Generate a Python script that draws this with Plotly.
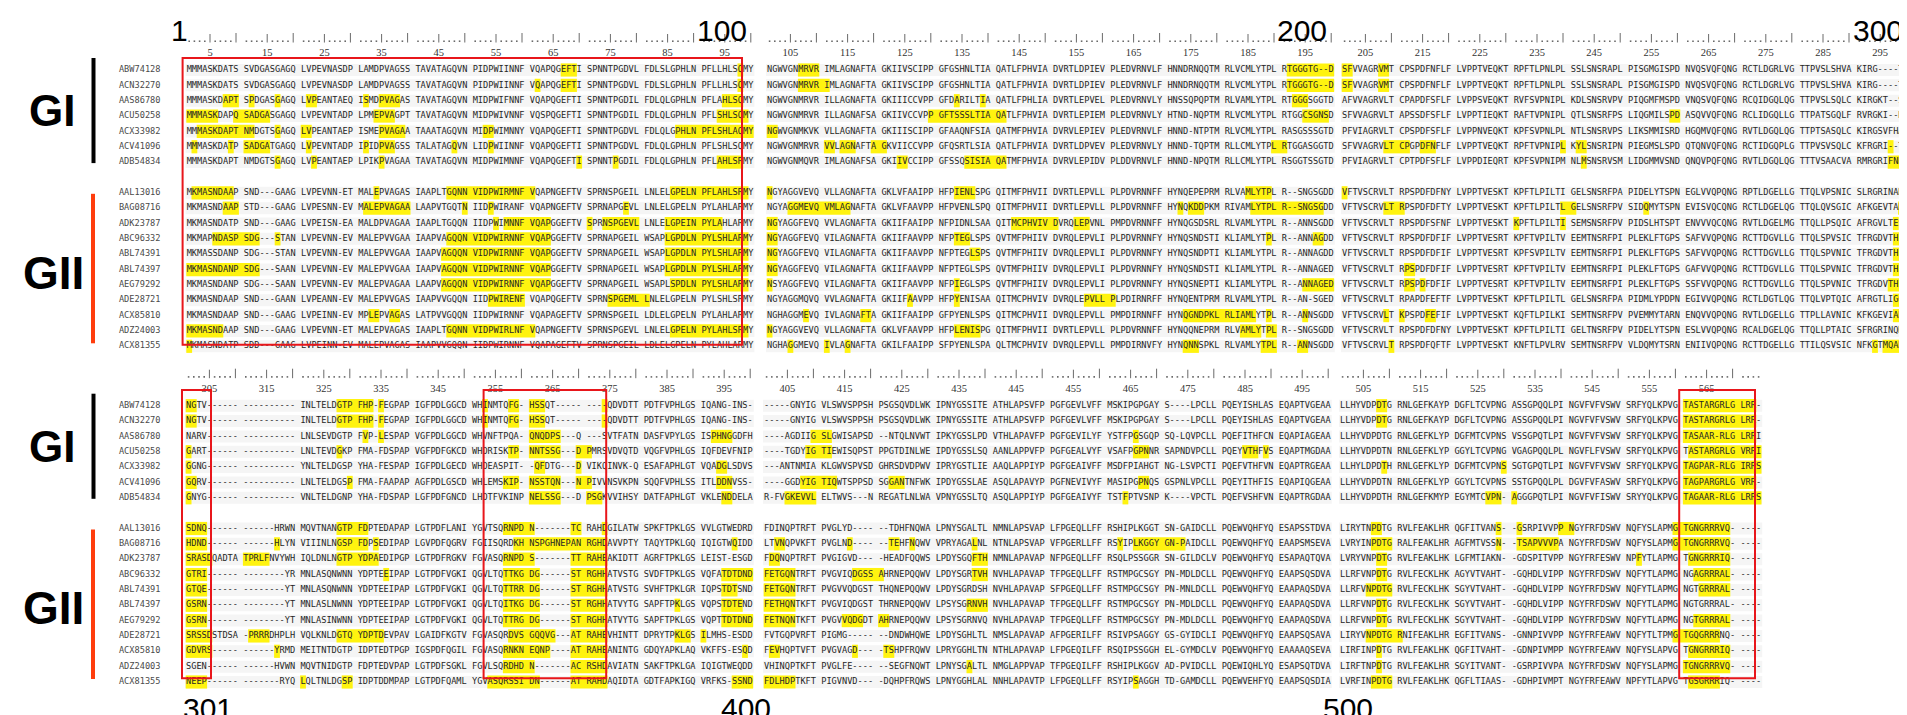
import plotly.graph_objects as go

W, H = 1907, 715

NAMES = ["ABW74128", "ACN32270", "AAS86780", "ACU50258", "ACX33982", "ACV41096", "ADB54834",
         "AAL13016", "BAG08716", "ADK23787", "ABC96332", "ABL74391", "ABL74397", "AEG79292",
         "ADE28721", "ACX85810", "ADZ24003", "ACX81355"]
N_GI = 7

SEQ_001_100 = [
    "MMMASKDATS SVDGASGAGQ LVPEVNASDP LAMDPVAGSS TAVATAGQVN PIDPWIINNF VQAPQGEFTI SPNNTPGDVL FDLSLGPHLN PFLLHLSQMY",
    "MMMASKDATS SVDGASGAGQ LVPEVNASDP LAMDPVAGSS TAVATAGQVN PIDPWIINNF VQAPQGEFTI SPNNTPGDVL FDLSLGPHLN PFLLHLSQMY",
    "MMMASKDAPT SPDGASGAGQ LVPEANTAEQ ISMDPVAGAS TAVATAGQVN MIDPWIFNNF VQAPQGEFTI SPNNTPGDIL FDLQLGPHLN PFLAHLSQMY",
    "MMMASKDAPQ SADGASGAGQ LVPEVNTADP LPMEPVAGPT TAVATAGQVN MIDPWIVNNF VQSPQGEFTI SPNNTPGDIL FDLQLGPHLN PFLSHLSQMY",
    "MMMASKDAPT NMDGTSGAGQ LVPEANTAEP ISMEPVAGAA TAAATAGQVN MIDPWIMNNY VQAPQGEFTI SPNNTPGDVL FDLQLGPHLN PFLSHLAQMY",
    "MMMASKDATP SADGATGAGQ LVPEVNTADP IPIDPVAGSS TALATAGQVN LIDPWIINNF VQAPQGEFTI SPNNTPGDVL FDLQLGPHLN PFLSHLSQMY",
    "MMMASKDAPT NMDGTSGAGQ LVPEANTAEP LPIKPVAGAA TAVATAGQVN MIDPWIMNNF VQAPQGEFTI SPNNTPGDIL FDLQLGPHLN PFLAHLSRMY",
    "MKMASNDAAP SND---GAAG LVPEVNN-ET MALEPVAGAS IAAPLTGQNN VIDPWIRMNF VQAPNGEFTV SPRNSPGEIL LNLELGPELN PFLAHLSRMY",
    "MKMASNDAAP STD---GAAG LVPESNN-EV MALEPVAGAA LAAPVTGQTN IIDPWIRANF VQAPNGEFTV SPRNAPGEVL LNLELGPELN PYLAHLARMY",
    "MKMASNDATP SND---GAAG LVPEISN-EA MALDPVAGAA IAAPLTGQQN IIDPWIMNNF VQAPGGEFTV SPRNSPGEVL LNLELGPEIN PYLAHLARMY",
    "MKMAPNDASP SDG---STAN LVPEVNN-EV MALEPVVGAA IAAPVAGQQN VIDPWIRNNF VQAPGGEFTV SPRNAPGEIL WSAPLGPDLN PYLSHLARMY",
    "MKMASSDANP SDG---STAN LVPEVNN-EV MALEPVVGAA IAAPVAGQQN VIDPWIRNNF VQAPGGEFTV SPRNAPGEIL WSAPLGPDLN PYLSHLARMY",
    "MKMASNDANP SDG---SAAN LVPEVNN-EV MALEPVVGAA IAAPVAGQQN VIDPWIRNNF VQAPGGEFTV SPRNAPGEIL WSAPLGPDLN PYLSHLARMY",
    "MKMASNDANP SDG---SAAN LVPEVNN-EV MALEPVAGAA LAAPVAGQQN VIDPWIRNNF VQAPGGEFTV SPRNAPGEIL WSAPLSPDLN PYLSHLARMY",
    "MKMASNDAAP SND---GAAN LVPEANN-EV MALEPVVGAS IAAPVVGQQN IIDPWIRENF VQAPQGEFTV SPRNSPGEML LNLELGPELN PYLSHLSRMY",
    "MKMASNDAAP SND---GAAG LVPEINN-EV MPLEPVAGAS LATPVVGQQN IIDPWIRNNF VQAPAGEFTV SPRNSPGEIL LDLELGPELN PYLAHLARMY",
    "MKMASNDAAP SND---GAAG LVPEVNN-ET MALEPVAGAS IAAPLTGQNN VIDPWIRLNF VQAPNGEFTV SPRNSPGEVL LNLELGPELN PYLAHLSRMY",
    "MKMASNDATP SDD---GAAG LVPEINN-EV MALEPVAGAS IAAPVVGQQN IIDPWIRNNF VQAPAGEFTV SPRNSPGEIL LDLELGPELN PYLAHLARMY",
]

SEQ_101_200 = [
    "NGWVGNMRVR IMLAGNAFTA GKIIVSCIPP GFGSHNLTIA QATLFPHVIA DVRTLDPIEV PLEDVRNVLF HNNDRNQQTM RLVCMLYTPL RTGGGTG--D",
    "NGWVGNMRVR IMLAGNAFTA GKIIVSCIPP GFGSHNLTIA QATLFPHVIA DVRTLDPIEV PLEDVRNVLF HNNDRNQQTM RLVCMLYTPL RTGGGTG--D",
    "NGWVGNMRVR ILLAGNAFTA GKIIICCVPP GFDARILTIA QATLFPHLIA DVRTLEPVEL PLEDVRNVLY HNSSQPQPTM RLVAMLYTPL RTGGGSGGTD",
    "NGWVGNMRVR ILLAGNAFSA GKIIVCCVPP GFTSSSLTIA QATLFPHVIA DVRTLEPIEM PLEDVRNVLY HTND-NQPTM RLVCMLYTPL RTGGCSGNSD",
    "NGWVGNMKVK VLLAGNAFTA GKIIISCIPP GFAAQNFSIA QATMFPHVIA DVRVLEPIEV PLEDVRNVLF HNND-NTPTM RLVCMLYTPL RASGSSSGTD",
    "NGWVGNMRVR VVLAGNAFTA GKVIICCVPP GFQSRTLSIA QATLFPHVIA DVRTLDPVEV PLEDVRNVLY HNND-TQPTM RLLCMLYTPL RTGGASGGTD",
    "NGWVGNMQVR IMLAGNAFSA GKIIVCCIPP GFSSQSISIA QATMFPHVIA DVRVLEPIDV PLDDVRNVLF HNND-NPQTM RLLCMLYTPL RSGGTSSGTD",
    "NGYAGGVEVQ VLLAGNAFTA GKLVFAAIPP HFPIENLSPG QITMFPHVII DVRTLEPVLL PLPDVRNNFF HYNQEPEPRM RLVAMLYTPL R--SNGSGDD",
    "NGYAGGMEVQ VMLAGNAFTA GKLVFAAVPP HFPVENLSPQ QITMFPHVII DVRTLEPVLL PLPDVRNNFF HYNQKDDPKM RIVAMLYTPL R--SNGSGDD",
    "NGYAGGFEVQ VVLAGNAFTA GKIIFAAIPP NFPIDNLSAA QITMCPHVIV DVRQLEPVNL PMPDVRNNFF HYNQGSDSRL RLVAMLYTPL R--ANNSGDD",
    "NGYAGGFEVQ VILAGNAFTA GKIIFAAVPP NFPTEGLSPS QVTMFPHIIV DVRQLEPVLI PLPDVRNNFY HYNQSNDSTI KLIAMLYTPL R--ANNAGDD",
    "NGYAGGFEVQ VILAGNAFTA GKIIFAAVPP NFPTEGLSPS QVTMFPHIIV DVRQLEPVLI PLPDVRNNFY HYNQSNDPTI KLIAMLYTPL R--ANNAGDD",
    "NGYAGGFEVQ VILAGNAFTA GKIIFAAVPP NFPTEGLSPS QVTMFPHIIV DVRQLEPVLI PLPDVRNNFY HYNQSNDSTI KLIAMLYTPL R--ANNAGED",
    "NSYAGGFEVQ VILAGNAFTA GKIIFAAVPP NFPIEGLSPS QVTMFPHIIV DVRQLEPVLI PLPDVRNNFY HYNQSNEPTI KLIAMLYTPL R--ANNAGED",
    "NGYAGGMQVQ VVLAGNAFTA GKIIFAAVPP HFPYENISAA QITMCPHVIV DVRQLEPVLL PLPDIRNRFF HYNQENTPRM RLVAMLYTPL R--AN-SGED",
    "NGHAGGMEVQ IVLAGNAFTA GKIIFAAIPP GFPYENLSPS QITMCPHVII DVRQLEPVLL PMPDIRNNFF HYNQGNDPKL RLIAMLYTPL R--ANNSGDD",
    "NGYAGGVEVQ VLLAGNAFTA GKLVFAAVPP HFPLENISPG QITMFPHVII DVRTLEPVLL PLPDVRNNFF HYNQQNEPRM RLVAMLYTPL R--SNGSGDD",
    "NGHAGGMEVQ IVLAGNAFTA GKILFAAIPP SFPYENLSPA QLTMCPHVIV DVRQLEPVLL PMPDIRNVFY HYNQNNSPKL RLVAMLYTPL R--ANNSGDD",
]

SEQ_201_300 = [
    "SFVVAGRVMT CPSPDFNFLF LVPPTVEQKT RPFTLPNLPL SSLSNSRAPL PISGMGISPD NVQSVQFQNG RCTLDGRLVG TTPVSLSHVA KIRG----TS",
    "SFVVAGRVMT CPSPDFNFLF LVPPTVEQKT RPFTLPNLPL SSLSNSRAPL PISGMGISPD NVQSVQFQNG RCTLDGRLVG TTPVSLSHVA KIRG----TS",
    "AFVVAGRVLT CPAPDFSFLF LVPPSVEQKT RVFSVPNIPL KDLSNSRVPV PIQGMFMSPD VNQSVQFQNG RCQIDGQLQG TTPVSLSQLC KIRGKT--SS",
    "SFVVAGRVLT APSSDFSFLF LVPPTIEQKT RAFTVPNIPL QTLSNSRFPS LIQGMILSPD ASQVVQFQNG RCLIDGQLLG TTPATSGQLF RVRGKI--NQ",
    "PFVIAGRVLT CPSPDFSFLF LVPPNVEQKT KPFSVPNLPL NTLSNSRVPS LIKSMMISRD HGQMVQFQNG RVTLDGQLQG TTPTSASQLC KIRGSVFHAN",
    "SFVVAGRVLT CPGPDFNFLF LVPPTVEQKT RPFTVPNIPL KYLSNSRIPN PIEGMSLSPD QTQNVQFQNG RCTIDGQPLG TTPVSVSQLC KFRGRI--TS",
    "PFVIAGRVLT CPTPDFSFLF LVPPDIEQRT KPFSVPNIPM NLMSNSRVSM LIDGMMVSND QNQVPQFQNG RVTLDGQLQG TTTVSAACVA RMRGRIFNNN",
    "VFTVSCRVLT RPSPDFDFNY LVPPTVESKT KPFTLPILTI GELSNSRFPA PIDELYTSPN EGLVVQPQNG RPTLDGELLG TTQLVPSNIC SLRGRINAHL",
    "VFTVSCRVLT RPSPDFDFTY LVPPTVESKT KPFTLPILTL GELSNSRFPV SIDQMYTSPN EVISVQCQNG RCTLDGELQG TTQLQVSGIC AFKGEVTAHL",
    "VFTVSCRVLT RPSPDFSFNF LVPPTVESKT KPFTLPILTI SEMSNSRFPV PIDSLHTSPT ENVVVQCQNG RVTLDGELMG TTQLLPSQIC AFRGVLTEST",
    "VFTVSCRVLT RPSPDFDFIF LVPPTVESRT KPFTVPILTV EEMTNSRFPI PLEKLFTGPS SAFVVQPQNG RCTTDGVLLG TTQLSPVSIC TFRGDVTHIP",
    "VFTVSCRVLT RPSPDFDFIF LVPPTVESRT KPFSVPILTV EEMTNSRFPI PLEKLFTGPS SAFVVQPQNG RCTTDGVLLG TTQLSPVNIC TFRGDVTHIA",
    "VFTVSCRVLT RPSPDFDFIF LVPPTVESRT KPFTVPILTV EEMTNSRFPI PLEKLFTGPS GAFVVQPQNG RCTTDGVLLG TTQLSPVNIC TFRGDVTHIA",
    "VFTVSCRVLT RPSPDFDFIF LVPPTVESRT KPFTVPILTV EEMTNSRFPI PLEKLFTGPS SSFVVQPQNG RCTTDGVLLG TTQLSPVNIC TFRGDVTHIA",
    "VFTVSCRVLT RPAPDFEFTF LVPPTVESKT KPFTLPILTL GELSNSRFPA PIDMLYPDPN EGIVVQPQNG RCTLDGTLQG TTQLVPTQIC AFRGTLIGQT",
    "VFTVSCRVLT KPSPDFEFIF LVPPTVESKT KQFTLPILKI SEMTNSRFPV PVEMMYTARN ENQVVQPQNG RVTLDGELLG TTPLLAVNIC KFKGEVIAKN",
    "VFTVSCRVLT RPSPDFDFNY LVPPTVESKT KPFTLPILTI GELTNSRFPV PIDELYTSPN ESLVVQPQNG RCALDGELQG TTQLLPTAIC SFRGRINQKV",
    "VFTVSCRVLT RPSPDFQFTF LVPPTVESKT KNFTLPVLRV SEMTNSRFPV VLDQMYTSRN ENIIVQPQNG RCTTDGELLG TTILQSVSIC NFKGTMQAKL",
]

SEQ_301_400 = [
    "NGTV------ ---------- INLTELDGTP FHP-FEGPAP IGFPDLGGCD WHINMTQFG- HSSQT----- ----QDVDTT PDTFVPHLGS IQANG-INS-",
    "NGTV------ ---------- INLTELDGTP FHP-FEGPAP IGFPDLGGCD WHINMTQFG- HSSQT----- ----QDVDTT PDTFVPHLGS IQANG-INS-",
    "NARV------ ---------- LNLSEVDGTP FVP-LESPAP VGFPDLGGCD WHVNFTPQA- QNQDPS---Q ---SVTFATN DASFVPYLGS ISPHNGGDFH",
    "GART------ ---------- LNLTEVDGKP FMA-FDSPAP VGFPDFGKCD WHDRISKTP- NNTSSG---D PMRSVDVQTD VQGFVPHLGS IQFDEVFNIP",
    "GGNG------ ---------- YNLTELDGSP YHA-FESPAP IGFPDLGECD WHDEASPIT- -QFDTG---D VIKQINVK-Q ESAFAPHLGT VQADGLSDVS",
    "GQRV------ ---------- LNLTELDGSP FMA-FAAPAP AGFPDLGSCD WHLEMSKIP- NSSTQN---N PIVVNSVKPN SQQFVPHLSS ITLDDNVSS-",
    "GNYG------ ---------- VNLTELDGNP YHA-FDSPAP LGFPDFGNCD LHDTFVKINP NELSSG---D PSGKVVIHSY DATFAPHLGT VKLENDDELA",
    "SDNQ------ ------HRWN MQVTNANGTP FDPTEDAPAP LGTPDFLANI YGVTSQRNPD N-------TC RAHDGILATW SPKFTPKLGS VVLGTWEDRD",
    "HDND------ ------HLYN VIIINLNGSP FDPSEDIPAP LGVPDFQGRV FGIISQRDKH NSPGHNEPAN RGHDAVVPTY TAQYTPKLGQ IQIGTWQIDD",
    "SRASDQADTA TPRLFNVYWH IQLDNLNGTP YDPAEDIPGP LGTPDFRGKV FGVASQRNPD S-------TT RAHEAKIDTT AGRFTPKLGS LEIST-ESGD",
    "GTRI------ --------YR MNLASQNWNN YDPTEEIPAP LGTPDFVGKI QGVLTQTTKG DG------ST RGHHATVSTG SVDFTPKLGS VQFATDTDND",
    "GTQE------ --------YT MNLASQNWNN YDPTEEIPAP LGTPDFVGKI QGVLTQTTRR DG------ST RGHHATVSTG SVHFTPKLGR IQPSTDTSND",
    "GSRN------ --------YT MNLASLNWNN YDPTEEIPAP LGTPDFVGKI QGVLTQITKG DG------ST RGHHATVYTG SAPFTPKLGS VQPSTDTEND",
    "GSRN------ --------YT MNLASINWNN YDPTEEIPAP LGTPDFVGKI QGVLTQTTRG DG------ST RGHHATVYTG SAPFTPKLGS VQPTTDTDND",
    "SRSSDSTDSA -PRRRDHPLH VQLKNLDGTQ YDPTDEVPAV LGAIDFKGTV FGVASQRDVS GQQVG---AT RAHEVHINTT DPRYTPKLGS ILMHS-ESDD",
    "GDVRS----- ------YRMD MEITNTDGTP IDPTEDTPGP IGSPDFQGIL FGVASQRNKN EQNP----AT RAHEANINTG GDQYAPKLAQ VKFFS-ESQD",
    "SGEN------ ------HVWN MQVTNIDGTP FDPTEDVPAP LGTPDFSGKL FGVLSQRDHD N-------AC RSHDAVIATN SAKFTPKLGA IQIGTWEQDD",
    "NEEP------ -------RYQ LQLTNLDGSP IDPTDDMPAP LGTPDFQAML YGVASQRSSI DN------AT RAHDAQIDTA GDTFAPKIGQ VRFKS-SSND",
]

SEQ_401_500 = [
    "-----GNYIG VLSWVSPPSH PSGSQVDLWK IPNYGSSITE ATHLAPSVFP PGFGEVLVFF MSKIPGPGAY S----LPCLL PQEYISHLAS EQAPTVGEAA",
    "-----GNYIG VLSWVSPPSH PSGSQVDLWK IPNYGSSITE ATHLAPSVFP PGFGEVLVFF MSKIPGPGAY S----LPCLL PQEYISHLAS EQAPTVGEAA",
    "----AGDIIG SLGWISAPSD --NTQLNVWT IPKYGSSLPD VTHLAPAVFP PGFGEVILYF YSTFPGSGQP SQ-LQVPCLL PQEFITHFCN EQAPIAGEAA",
    "----TGDYIG TIEWISQPST PPGTDINLWE IPDYGSSLSQ AANLAPPVFP PGFGEALVYF VSAFPGPNNR SAPNDVPCLL PQEYVTHFVS EQAPTMGDAA",
    "---ANTNMIA KLGWVSPVSD GHRSDVDPWV IPRYGSTLIE AAQLAPPIYP PGFGEAIVFF MSDFPIAHGT NG-LSVPCTI PQEFVTHFVN EQAPTRGEAA",
    "----GGDYIG TIQWTSPPSD SGGANTNFWK IPDYGSSLAE ASQLAPAVYP PGFNEVIVYF MASIPGPNQS GSPNLVPCLL PQEYITHFIS EQAPIQGEAA",
    "R-FVGKEVVL ELTWVS---N REGATLNLWA VPNYGSSLTQ ASQLAPPIYP PGFGEAIVYF TSTFPTVSNP K----VPCTL PQEFVSHFVN EQAPTRGDAA",
    "FDINQPTRFT PVGLYD---- --TDHFNQWA LPNYSGALTL NMNLAPSVAP LFPGEQLLFF RSHIPLKGGT SN-GAIDCLL PQEWVQHFYQ ESAPSSTDVA",
    "LTVNQPVKFT PVGLND---- --TEHFNQWV VPRYAGALNL NTNLAPSVAP VFPGERLLFF RSYIPLKGGY GN-PAIDCLL PQEWVQHFYQ EAAPSMSEVA",
    "FDQNQPTRFT PVGIGVD--- -HEADFQQWS LPDYSGQFTH NMNLAPAVAP NFPGEQLLFF RSQLPSSGGR SN-GILDCLV PQEWVQHFYQ ESAPAQTQVA",
    "FETGQNTRFT PVGVIQDGSS AHRNEPQQWV LPDYSGRTVH NVHLAPAVAP TFPGEQLLFF RSTMPGCSGY PN-MDLDCLL PQEWVQHFYQ EAAPSQSDVA",
    "FETGQNTRFT PVGVVQDGST THQNEPQQWV LPDYSGRDSH NVHLAPAVAP SFPGEQLLFF RSTMPGCSGY PN-MNLDCLL PQEWVQHFYQ EAAPAQSDVA",
    "FETHQNTKFT PVGVIQDGST THRNEPQQWV LPSYSGRNVH NVHLAPAVAP TFPGEQLLFF RSTMPGCSGY PN-MDLDCLL PQEWVQHFYQ EAAPAQSDVA",
    "FETNQNTKFT PVGVVQDGDT AHRNEPQQWV LPSYSGRNVQ NVHLAPAVAP TFPGEQLLFF RSTMPGCSGY PN-MDLDCLL PQEWVQHFYQ EAAPAQSDVA",
    "FVTGQPVRFT PIGMG----- --DNDWHQWE LPDYSGHLTL NMSLAPAVAP AFPGERILFF RSIVPSAGGY GS-GYIDCLI PQEWVQHFYQ EAAPSQSAVA",
    "FEVHQPTVFT PVGVAGD--- -TSHPFRQWV LPRYGGHLTN NTHLAPAVAP LFPGEQILFF RSQIPSSGGH EL-GYMDCLV PQEWVQHFYQ EAAAAQSEVA",
    "VHINQPTKFT PVGLFE---- --SEGFNQWT LPNYSGALTL NMGLAPPVAP TFPGEQILFF RSHIPLKGGV AD-PVIDCLL PQEWIQHLYQ ESAPSQTDVA",
    "FDLHDPTKFT PIGVNVD--- -DQHPFRQWS LPNYGGHLAL NNHLAPAVTP LFPGEQLLFF RSYIPSAGGH TD-GAMDCLL PQEWVEHFYQ EAAPSQSDIA",
]

SEQ_501_574 = [
    "LLHYVDPDTG RNLGEFKAYP DGFLTCVPNG ASSGPQQLPI NGVFVFVSWV SRFYQLKPVG TASTARGRLG LRR-",
    "LLHYVDPDTG RNLGEFKAYP DGFLTCVPNG ASSGPQQLPI NGVFVFVSWV SRFYQLKPVG TASTARGRLG LRR-",
    "LLHYVDPDTG RNLGEFKLYP DGFMTCVPNS VSSGPQTLPI NGVFVFVSWV SRFYQLKPVG TASAAR-RLG LRRI",
    "LLHYVDPDTN RNLGEFKLYP GGYLTCVPNG VGAGPQQLPL NGVFLFVSWV SRFYQLKPVG TASTARGRLG VRRI",
    "LLHYLDPDTH RNLGEFKLYP DGFMTCVPNS SGTGPQTLPI NGVFVFVSWV SRFYQLKPVG TAGPAR-RLG IRRS",
    "LLHYVDPDTN RNLGEFKLYP GGYLTCVPNS SSTGPQQLPL DGVFVFASWV SRFYQLKPVG TAGPARGRLG VRR-",
    "LLHYVDPDTH RNLGEFKMYP EGYMTCVPN- AGGGPQTLPI NGVFVFISWV SRYYQLKPVG TAGAAR-RLG LRRS",
    "LIRYTNPDTG RVLFEAKLHR QGFITVANS- -GSRPIVVPP NGYFRFDSWV NQFYSLAPMG TGNGRRRVQ- ----",
    "LVRYINPDTG RALFEAKLHR AGFMTVSSN- -TSAPVVVPA NGYFRFDSWV NQFYSLAPMG TGNGRRRVQ- ----",
    "LVRYVNPDTG RVLFEAKLHK LGFMTIAKN- -GDSPITVPP NGYFRFESWV NPFYTLAPMG TGNGRRRIQ- ----",
    "LLRFVNPDTG RVLFECKLHK AGYVTVAHT- -GQHDLVIPP NGYFRFDSWV NQFYTLAPMG NGAGRRRAL- ----",
    "LLRFVNPDTG RVLFECKLHK SGYVTVAHT- -GQHDLVIPP NGYFRFDSWV NQFYTLAPMG NGTGRRRAL- ----",
    "LLRFVNPDTG RVLFECKLHK SGYVTVAHT- -GQHDLVIPP NGYFRFDSWV NQFYTLAPMG NGTGRRRAL- ----",
    "LLRFVNPDTG RVLFECKLHK SGYVTVAHT- -GQHDLVIPP NGYFRFDSWV NQFYTLAPMG NGTGRRRAL- ----",
    "LIRYVNPDTG RNIFEAKLHR EGFITVANS- -GNNPIVVPP NGYFRFEAWV NQFYTLTPMG TGQGRRRNQ- ----",
    "LIRFINPDTG RVLFEAKLHK QGFITVAHT- -GDNPIVMPP NGYFRFEAWV NQFYSLAPVG TGNGRRRIQ- ----",
    "LIRFTNPDTG RVLFEAKLHR SGYITVANT- -GSRPIVVPA NGYFRFDSWV NQFYSLAPMG TGNGRRRVQ- ----",
    "LVRFINPDTG RVLFEAKLHK QGFLTIAAS- -GDHPIVMPT NGYFRFEAWV NPFYTLAPVG TGSGRRRIQ- ----",
]

# highlighted (yellow) residue ranges, alignment column numbers, per sequence
HL_001_100 = {
    "ABW74128": [(67, 69), (98, 98)],
    "ACN32270": [(62, 62), (67, 69), (98, 98)],
    "AAS86780": [(8, 10), (12, 12), (17, 17), (22, 23), (32, 32), (35, 38), (95, 98)],
    "ACU50258": [(1, 6), (10, 15), (34, 37), (94, 99)],
    "ACX33982": [(3, 12), (17, 17), (21, 22), (35, 39), (53, 54), (87, 100)],
    "ACV41096": [(2, 2), (9, 9), (11, 15), (22, 22), (32, 32), (35, 37), (48, 48), (54, 54)],
    "ADB54834": [(17, 17), (23, 23), (35, 35), (70, 70), (76, 76), (94, 98)],
    "AAL13016": [(2, 9), (34, 34), (47, 61), (86, 99)],
    "BAG08716": [(8, 10), (32, 40), (50, 50), (54, 54), (78, 78)],
    "ADK23787": [(55, 55), (57, 64), (71, 71), (74, 80), (85, 94)],
    "ABC96332": [(6, 13), (17, 17), (47, 64), (85, 99)],
    "ABL74391": [(46, 64), (85, 99)],
    "ABL74397": [(1, 13), (46, 64), (85, 99)],
    "AEG79292": [(46, 64), (86, 99)],
    "ADE28721": [(54, 60), (75, 81)],
    "ACX85810": [(33, 34), (37, 38)],
    "ADZ24003": [(1, 7), (47, 61), (86, 99)],
    "ACX81355": [(1, 1)],
}
HL_101_200 = {
    "ABW74128": [(107, 110), (192, 200)],
    "ACN32270": [(107, 111), (192, 200)],
    "AAS86780": [(134, 134), (139, 139), (193, 195)],
    "ACU50258": [(130, 142), (195, 199)],
    "ACX33982": [(101, 102)],
    "ACV41096": [(111, 112), (114, 116), (120, 121), (190, 191)],
    "ADB54834": [(124, 125), (136, 142)],
    "AAL13016": [(101, 101), (134, 137), (185, 189)],
    "BAG08716": [(105, 115), (173, 173), (175, 177), (186, 198)],
    "ADK23787": [(101, 102), (144, 151), (155, 157)],
    "ABC96332": [(101, 102), (134, 136), (189, 189), (197, 198)],
    "ABL74391": [(101, 102), (137, 138)],
    "ABL74397": [(101, 102)],
    "AEG79292": [(101, 101), (134, 134), (195, 200)],
    "ADE28721": [(126, 126), (134, 134), (157, 161)],
    "ACX85810": [(108, 108), (118, 119), (174, 186), (189, 189), (195, 195)],
    "ADZ24003": [(101, 101), (134, 138), (184, 187), (189, 190)],
    "ACX81355": [(105, 105), (111, 111), (115, 115), (174, 176), (188, 190), (194, 195)],
}
HL_201_300 = {
    "ABW74128": [(201, 202), (208, 209)],
    "ACN32270": [(201, 202), (208, 209)],
    "ACU50258": [(259, 260), (300, 300)],
    "ACV41096": [(209, 212), (215, 217), (240, 240), (242, 243), (297, 297)],
    "ADB54834": [(243, 243), (297, 300)],
    "AAL13016": [(201, 201)],
    "BAG08716": [(209, 211), (240, 241), (254, 254), (299, 300)],
    "ADK23787": [(231, 231), (240, 240), (298, 298)],
    "ABC96332": [(298, 300)],
    "ABL74391": [(298, 300)],
    "ABL74397": [(212, 213), (298, 300)],
    "AEG79292": [(212, 213), (215, 215), (297, 300)],
    "ADE28721": [(298, 300)],
    "ACX85810": [(209, 209), (211, 211), (216, 217), (298, 300)],
    "ACX81355": [(210, 210), (294, 294), (296, 300)],
}
HL_301_400 = {
    "ABW74128": [(301, 302), (328, 333), (335, 335), (353, 353), (358, 359), (361, 363), (374, 374)],
    "ACN32270": [(301, 302), (328, 333), (335, 335), (353, 353), (358, 359), (361, 363), (374, 374)],
    "AAS86780": [(332, 332), (335, 335), (361, 366), (393, 396)],
    "ACU50258": [(301, 301), (328, 328), (358, 359), (361, 366), (370, 371)],
    "ACX33982": [(301, 301), (362, 363), (370, 370), (394, 395)],
    "ACV41096": [(301, 302), (330, 330), (357, 359), (361, 366), (370, 371), (394, 396)],
    "ADB54834": [(301, 301), (361, 366), (371, 373), (395, 396)],
    "AAL13016": [(301, 304), (328, 332), (357, 361), (369, 370), (374, 374)],
    "BAG08716": [(301, 304), (317, 317), (328, 332), (334, 334), (359, 374), (397, 397)],
    "ADK23787": [(301, 305), (311, 315), (328, 334), (357, 361), (369, 374)],
    "ABC96332": [(301, 304), (336, 336), (357, 362), (369, 374), (395, 400)],
    "ABL74391": [(301, 304), (357, 362), (369, 374), (395, 397)],
    "ABL74397": [(301, 304), (357, 362), (369, 374), (387, 387), (395, 398)],
    "AEG79292": [(301, 304), (357, 362), (369, 374), (395, 400)],
    "ADE28721": [(301, 305), (312, 315), (328, 335), (358, 365), (369, 374), (387, 389), (391, 391)],
    "ACX85810": [(301, 305), (317, 317), (357, 364), (369, 374), (399, 399)],
    "ADZ24003": [(357, 361), (369, 374)],
    "ACX81355": [(301, 304), (321, 321), (329, 330), (354, 362), (369, 374), (397, 400)],
}
HL_401_500 = {
    "AAS86780": [(410, 412), (466, 466)],
    "ACU50258": [(409, 412), (466, 468), (485, 487), (489, 489)],
    "ACV41096": [(408, 413), (423, 425), (467, 468)],
    "ADB54834": [(405, 410), (464, 464)],
    "BAG08716": [(403, 404), (416, 416), (423, 424), (427, 427), (438, 438), (463, 463), (466, 474)],
    "ADK23787": [(402, 403), (438, 440)],
    "ABC96332": [(401, 406), (417, 421), (438, 440)],
    "ABL74391": [(401, 406)],
    "ABL74397": [(401, 406), (437, 440)],
    "AEG79292": [(401, 406), (415, 418), (421, 422)],
    "ACX85810": [(402, 403), (417, 417), (422, 423)],
    "ADZ24003": [(437, 437)],
    "ACX81355": [(401, 406), (466, 466)],
}
HL_501_574 = {
    "ABW74128": [(508, 509), (561, 573)],
    "ACN32270": [(508, 509), (561, 573)],
    "AAS86780": [(561, 573)],
    "ACU50258": [(562, 574)],
    "ACX33982": [(509, 509), (530, 530), (561, 574)],
    "ACV41096": [(561, 573)],
    "ADB54834": [(527, 529), (531, 531), (561, 574)],
    "AAL13016": [(507, 508), (529, 529), (532, 532), (540, 541), (560, 569)],
    "BAG08716": [(507, 510), (529, 529), (532, 539), (560, 569)],
    "ADK23787": [(508, 509), (553, 553), (562, 569)],
    "ABC96332": [(508, 509), (563, 569)],
    "ABL74391": [(506, 510), (564, 569)],
    "ABL74397": [(508, 509)],
    "AEG79292": [(508, 509), (563, 569)],
    "ADE28721": [(506, 511), (560, 567)],
    "ACX85810": [(508, 508), (562, 569)],
    "ADZ24003": [(508, 508), (561, 569)],
    "ACX81355": [(507, 510), (562, 567)],
}

# boxed (red) column ranges: (panel, first column, last column)
RED_BOXES = [(0, 1, 98), (1, 301, 305), (1, 354, 374), (1, 561, 573)]

# big position labels
POS_LABELS_TOP = ["1", "100", "200", "300"]
POS_LABELS_BOTTOM = ["301", "400", "500"]

# ---------------- layout / style ----------------
CW = 5.2                     # pixel pitch of one residue
SEQ_FONT = CW / 0.602        # DejaVu Sans Mono advance = 0.602 em
ROW_STEP = 15.35
YELLOW = "#FFF30F"
RED = "#E8161B"
ORANGE = "#FF3D0D"
RULER_COLOR = "#6a6a6a"
ROW_SHADE = "#F5F5F5"

PANELS = [
    dict(row0=62.0, box=(-12.0, -1.5), blocks=[(SEQ_001_100, HL_001_100, 1, 178.6),
                                               (SEQ_101_200, HL_101_200, 101, 759.0),
                                               (SEQ_201_300, HL_201_300, 201, 1334.0)]),
    dict(row0=397.7, box=(-15.7, -3.7), blocks=[(SEQ_301_400, HL_301_400, 301, 178.0),
                                                (SEQ_401_500, HL_401_500, 401, 756.0),
                                                (SEQ_501_574, HL_501_574, 501, 1332.0)]),
]
POS_LABEL_XY_TOP = [(171, 22), (714, 22), (1294, 22), (1870, 22)]
POS_LABEL_XY_BOTTOM = [(200, 700), (738, 700), (1340, 700)]


def row_y(panel, i):
    k = i if i < N_GI else i + 1
    return panel["row0"] + ROW_STEP * k


def col_left(x0, col0, col):
    idx = col - col0
    return x0 + (idx + idx // 10) * CW


fig = go.Figure()
shapes = []
annotations = []

for p_i, panel in enumerate(PANELS):
    dot_x, dot_y = [], []
    tick_x, tick_y = [], []
    lx, ly, lt = [], [], []
    for seqs, hls, col0, x0 in panel["blocks"]:
        sx, sy, st = [], [], []
        for i, name in enumerate(NAMES):
            y = row_y(panel, i)
            groups = seqs[i].split(" ")
            n_chars = sum(len(g) for g in groups) + len(groups) - 1
            shapes.append(dict(type="rect", xref="x", yref="y", layer="below",
                               x0=x0 - 1, x1=x0 + n_chars * CW + 1, y0=y - 6.0, y1=y + 6.0,
                               fillcolor=ROW_SHADE, line=dict(width=0)))
            for g, grp in enumerate(groups):
                left = x0 + 11 * g * CW
                sx.append(left + len(grp) * CW / 2)
                sy.append(y)
                st.append(grp)
            for (a, b) in hls.get(name, []):
                shapes.append(dict(type="rect", xref="x", yref="y", layer="below",
                                   x0=col_left(x0, col0, a) - 0.3, x1=col_left(x0, col0, b) + CW + 0.3,
                                   y0=y - 6.6, y1=y + 6.6, fillcolor=YELLOW, line=dict(width=0)))
        fig.add_trace(go.Scatter(x=sx, y=sy, text=st, mode="text", textposition="middle center",
                                 textfont=dict(family="DejaVu Sans Mono", size=SEQ_FONT, color="#262626"),
                                 hoverinfo="skip", showlegend=False, cliponaxis=False))
        # ruler: dots at each residue, ticks at 5 and 10 of each group
        for g, grp in enumerate(seqs[0].split(" ")):
            left = x0 + 11 * g * CW
            for j in range(len(grp)):
                cx = left + (j + 0.5) * CW
                if j == 4 or j == 9:
                    top = panel["row0"] - (37.0 if j == 9 else 36.0)
                    tick_x += [cx, cx, None]
                    tick_y += [top, panel["row0"] - 27.5, None]
                else:
                    dot_x.append(cx)
                    dot_y.append(panel["row0"] - 28.8)
            if len(grp) == 10:
                lx.append(left + 4.5 * CW)
                ly.append(panel["row0"] - 16.3)
                lt.append(str(col0 + 10 * g + 4))
    fig.add_trace(go.Scatter(x=dot_x, y=dot_y, mode="markers",
                             marker=dict(symbol="square", size=1.6, color=RULER_COLOR, line=dict(width=0)),
                             hoverinfo="skip", showlegend=False, cliponaxis=False))
    fig.add_trace(go.Scatter(x=tick_x, y=tick_y, mode="lines",
                             line=dict(color=RULER_COLOR, width=1),
                             hoverinfo="skip", showlegend=False, cliponaxis=False))
    fig.add_trace(go.Scatter(x=lx, y=ly, text=lt, mode="text", textposition="middle center",
                             textfont=dict(family="Liberation Serif", size=10.5, color="#333333"),
                             hoverinfo="skip", showlegend=False, cliponaxis=False))
    # names
    fig.add_trace(go.Scatter(x=[131.7] * len(NAMES), y=[row_y(panel, i) for i in range(len(NAMES))],
                             text=NAMES, mode="text", textposition="middle center",
                             textfont=dict(family="DejaVu Sans Mono", size=SEQ_FONT, color="#4a4a4a"),
                             hoverinfo="skip", showlegend=False, cliponaxis=False))
    # group bars and labels
    y_gi0, y_gi1 = panel["row0"] - 12, row_y(panel, N_GI - 1) + 1
    y_gii0, y_gii1 = row_y(panel, N_GI) + 1, row_y(panel, len(NAMES) - 1) - 3
    shapes.append(dict(type="line", xref="x", yref="y", x0=85.5, x1=85.5, y0=y_gi0, y1=y_gi1,
                       line=dict(color="black", width=4)))
    shapes.append(dict(type="line", xref="x", yref="y", x0=85.0, x1=85.0, y0=y_gii0, y1=y_gii1,
                       line=dict(color=ORANGE, width=4)))
    annotations.append(dict(x=43.5, y=(y_gi0 + y_gi1) / 2, xref="x", yref="y", text="<b>GI</b>",
                            showarrow=False, font=dict(family="Liberation Sans", size=44, color="black")))
    annotations.append(dict(x=45.5, y=(y_gii0 + y_gii1) / 2 + 4, xref="x", yref="y", text="<b>GII</b>",
                            showarrow=False, font=dict(family="Liberation Sans", size=46, color="black")))

# red boxes
for p_i, a, b in RED_BOXES:
    panel = PANELS[p_i]
    blk = [bl for bl in panel["blocks"] if bl[2] <= a < bl[2] + 100][0]
    x0b = col_left(blk[3], blk[2], a) - 4
    x1b = col_left(blk[3], blk[2], b) + CW - 1
    y0b = panel["row0"] + panel["box"][0]
    y1b = row_y(panel, len(NAMES) - 1) + panel["box"][1]
    shapes.append(dict(type="rect", xref="x", yref="y", x0=x0b, x1=x1b, y0=y0b, y1=y1b,
                       line=dict(color=RED, width=2), fillcolor="rgba(0,0,0,0)"))

for txt, (x, y) in zip(POS_LABELS_TOP, POS_LABEL_XY_TOP):
    annotations.append(dict(x=x, y=y, xref="x", yref="y", text=txt, showarrow=False,
                            font=dict(family="Liberation Sans", size=30, color="black")))
for txt, (x, y) in zip(POS_LABELS_BOTTOM, POS_LABEL_XY_BOTTOM):
    annotations.append(dict(x=x, y=y, xref="x", yref="y", text=txt, showarrow=False,
                            font=dict(family="Liberation Sans", size=30, color="black")))

fig.update_layout(
    width=W, height=H, margin=dict(l=0, r=0, t=0, b=0),
    paper_bgcolor="white", plot_bgcolor="white",
    xaxis=dict(range=[0, W], visible=False, fixedrange=True),
    yaxis=dict(range=[H, 0], visible=False, fixedrange=True),
    shapes=shapes, annotations=annotations, showlegend=False,
)

fig.write_html("out.html")
